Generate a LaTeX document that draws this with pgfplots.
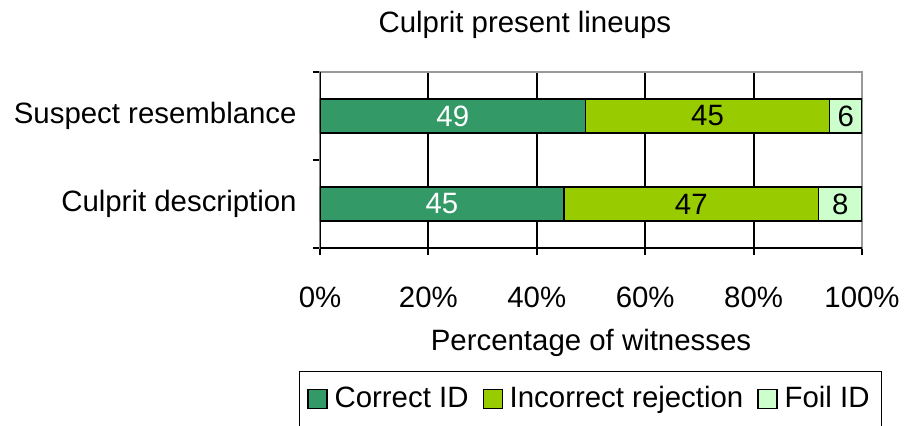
\documentclass[border=0pt]{standalone}
\usepackage{fontspec}
\setmainfont{Liberation Sans}
\usepackage{pgfplots}
\usepackage{pgfplotstable}
\pgfplotsset{compat=1.18}
\definecolor{cA}{HTML}{339966}
\definecolor{cB}{HTML}{99CC00}
\definecolor{cC}{HTML}{CCFFCC}
\pgfplotstableread{
y correct incorrect foil
1 45 47 8
2 49 45 6
}\data
\begin{document}
\fontsize{14.7}{17}\selectfont
\begin{tikzpicture}
\path[use as bounding box] (-160pt,-88.5pt) rectangle (292pt,124pt);
\begin{axis}[
 at={(0pt,0pt)}, anchor=south west,
 scale only axis, width=271pt, height=88pt,
 xbar stacked, bar width=17pt,
 xmin=0, xmax=100, ymin=0.5, ymax=2.5,
 /pgf/number format/assume math mode=true,
 xtick={0,20,...,100}, xticklabels={0\%,20\%,40\%,60\%,80\%,100\%},
 ytick={0.5,1.5,2.5}, yticklabels={},
 extra y ticks={1,2}, extra y tick labels={Culprit description,Suspect resemblance},
 extra y tick style={major tick length=0pt},
 tick pos=left, tick align=outside, major tick length=3.5pt,
 tick style={black, line width=0.9pt},
 xmajorgrids, major grid style={black, line width=0.9pt},
 axis line style={draw=gray!80, line width=0.7pt},
 xticklabel style={anchor=center, yshift=-21pt},
 yticklabel style={anchor=east, inner sep=0pt, xshift=-11.5pt},
 title={Culprit present lineups}, title style={at={(0.378,1.20)}, anchor=center},
 xlabel={Percentage of witnesses}, xlabel style={at={(0.5,-0.54)}, anchor=center},
 legend style={at={(0.499,-0.858)}, anchor=center, legend columns=3, draw=black, line width=0.6pt,
   inner xsep=4pt, inner ysep=5.25pt,
   /tikz/every odd column/.append style={column sep=1.5pt},
   /tikz/every even column/.append style={column sep=5pt}},
 legend image code/.code={\draw[#1, draw=black, line width=0.6pt] (0pt,-4.75pt) rectangle (9.5pt,4.75pt);},
 point meta=explicit,
 nodes near coords={\pgfmathprintnumber{\pgfplotspointmeta}},
 every node near coord/.append style={anchor=center},
]
\addplot[fill=cA, draw=black, line width=0.6pt,
  every node near coord/.append style={text=white}]
  table[x=correct, y=y, meta=correct] {\data};
\addplot[fill=cB, draw=black, line width=0.6pt,
  every node near coord/.append style={text=black}]
  table[x=incorrect, y=y, meta=incorrect] {\data};
\addplot[fill=cC, draw=black, line width=0.6pt,
  every node near coord/.append style={text=black}]
  table[x=foil, y=y, meta=foil] {\data};
\legend{Correct ID, Incorrect rejection, Foil ID}
\draw[black, line width=0.9pt] (rel axis cs:0,1) -- (rel axis cs:0,0) -- (rel axis cs:1,0);
\end{axis}
\end{tikzpicture}
\end{document}
